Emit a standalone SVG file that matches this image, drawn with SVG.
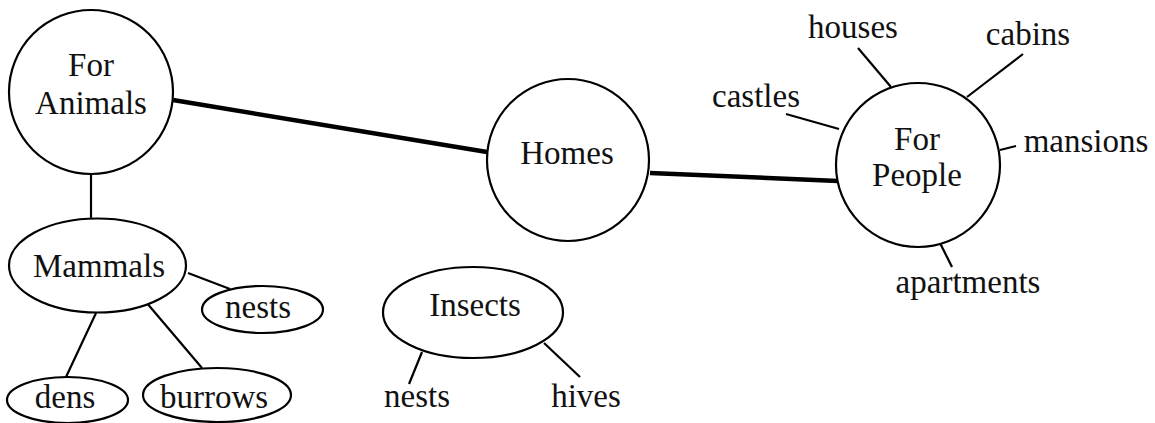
<svg xmlns="http://www.w3.org/2000/svg" width="1155" height="423" viewBox="0 0 1155 423">
  <style>
    .shape { fill: #fff; stroke: #000; stroke-width: 2.2; }
    .thin { stroke: #000; stroke-width: 2.2; fill: none; stroke-linecap: butt; }
    .thick { stroke: #000; stroke-width: 4.5; fill: none; }
    text { font-family: "Liberation Serif", "Times New Roman", serif; font-size: 33px; fill: #111; text-anchor: middle; }
  </style>
  <rect width="1155" height="423" fill="#fff"/>

  <!-- connectors -->
  <g id="connectors">
    <line class="thick" x1="173" y1="100" x2="487" y2="152"/>
    <line class="thick" x1="650" y1="173" x2="838" y2="181"/>
    <line class="thin" x1="91" y1="173" x2="91" y2="219"/>
    <line class="thin" x1="188" y1="273" x2="230" y2="289"/>
    <line class="thin" x1="96" y1="313" x2="66" y2="377"/>
    <line class="thin" x1="146" y1="302" x2="202" y2="368"/>
    <line class="thin" x1="422" y1="352" x2="409" y2="384"/>
    <line class="thin" x1="544" y1="343" x2="580" y2="377"/>
    <line class="thin" x1="858" y1="48" x2="891" y2="87"/>
    <line class="thin" x1="1023" y1="54" x2="967" y2="97"/>
    <line class="thin" x1="786" y1="114" x2="839" y2="129"/>
    <line class="thin" x1="1000" y1="150" x2="1016" y2="146"/>
    <line class="thin" x1="940" y1="243" x2="952" y2="267"/>
  </g>

  <g id="for-animals">
    <circle class="shape" cx="91" cy="92" r="82"/>
    <text x="91" y="76">For</text>
    <text x="91" y="114">Animals</text>
  </g>

  <g id="homes">
    <circle class="shape" cx="568" cy="160" r="81"/>
    <text x="567" y="164">Homes</text>
  </g>

  <g id="for-people">
    <circle class="shape" cx="918" cy="165" r="82"/>
    <text x="917" y="150">For</text>
    <text x="917" y="186">People</text>
  </g>

  <g id="mammals">
    <ellipse class="shape" cx="97.5" cy="265.5" rx="88.5" ry="47"/>
    <text x="99" y="277">Mammals</text>
  </g>

  <g id="mammal-nests">
    <ellipse class="shape" cx="262.5" cy="309.5" rx="60.5" ry="23.5"/>
    <text x="258" y="318">nests</text>
  </g>

  <g id="dens">
    <ellipse class="shape" cx="67.5" cy="400" rx="60.5" ry="23"/>
    <text x="65" y="408">dens</text>
  </g>

  <g id="burrows">
    <ellipse class="shape" cx="217" cy="395" rx="74" ry="27"/>
    <text x="214" y="408">burrows</text>
  </g>

  <g id="insects">
    <ellipse class="shape" cx="473" cy="312.5" rx="90" ry="45.5"/>
    <text x="475" y="316">Insects</text>
  </g>

  <g id="insect-nests">
    <text x="417" y="407">nests</text>
  </g>

  <g id="hives">
    <text x="586" y="407">hives</text>
  </g>

  <g id="houses">
    <text x="853" y="38">houses</text>
  </g>

  <g id="cabins">
    <text x="1028" y="45">cabins</text>
  </g>

  <g id="castles">
    <text x="756" y="107">castles</text>
  </g>

  <g id="mansions">
    <text x="1086" y="152">mansions</text>
  </g>

  <g id="apartments">
    <text x="968" y="293">apartments</text>
  </g>
</svg>
